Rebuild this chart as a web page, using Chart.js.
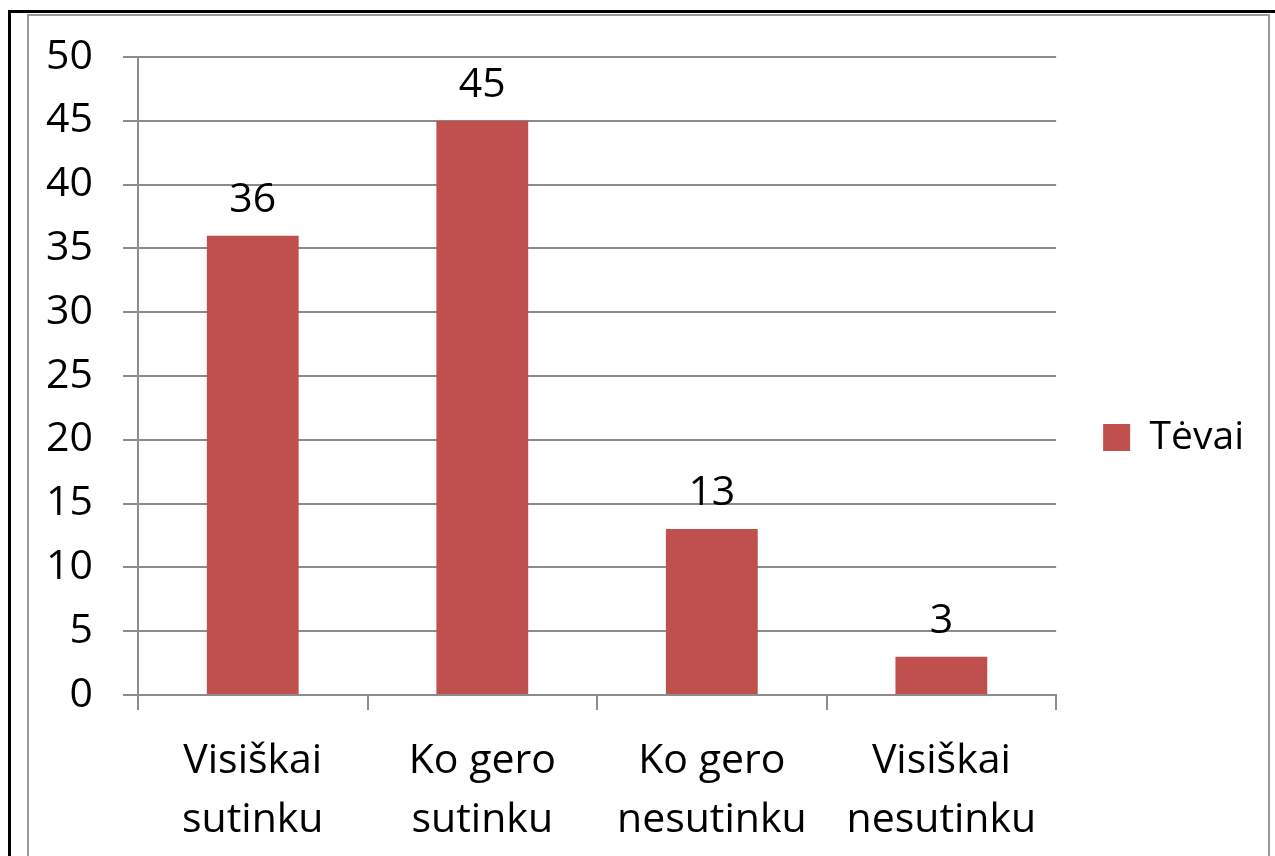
<!DOCTYPE html>
<html>
<head>
<meta charset="utf-8">
<script src="https://cdn.jsdelivr.net/npm/chart.js@4/dist/chart.umd.min.js"></script>
<style>
  html, body { margin: 0; padding: 0; background: #fff; width: 1275px; height: 856px; overflow: hidden; }
  #outer { position: absolute; left: 8px; top: 10px; width: 1300px; height: 900px; border: 3px solid #000; box-sizing: border-box; }
  #inner { position: absolute; left: 27px; top: 14px; width: 1243px; height: 900px; border: 2px solid #999; box-sizing: border-box; }
  #wrap { position: absolute; left: 0; top: 0; width: 1275px; height: 856px; }
</style>
</head>
<body>
<div id="outer"></div>
<div id="inner"></div>
<div id="wrap"><canvas id="c" width="1275" height="856"></canvas></div>
<script>
const categories = [["Visiškai", "sutinku"], ["Ko gero", "sutinku"], ["Ko gero", "nesutinku"], ["Visiškai", "nesutinku"]];
const seriesName = "Tėvai";
const values = [36, 45, 13, 3];
const yTicks = [0, 5, 10, 15, 20, 25, 30, 35, 40, 45, 50];

const FONT = "'Open Sans', 'Noto Sans', sans-serif";
const FSIZE = 41;
const BAR = "#C0504D";
const GRID = "#8c8c8c";

const dataLabels = {
  id: "dataLabels",
  afterDatasetsDraw(chart) {
    const ctx = chart.ctx;
    ctx.save();
    ctx.font = FSIZE + "px " + FONT;
    ctx.fillStyle = "#000";
    ctx.textAlign = "center";
    ctx.textBaseline = "alphabetic";
    chart.getDatasetMeta(0).data.forEach((bar, i) => {
      ctx.fillText(String(values[i]), bar.x, bar.y - 24);
    });
    ctx.restore();
  }
};

// raise the legend so it is centred in the whole frame, as in the original
const legendShift = {
  id: "legendShift",
  afterLayout(chart) {
    if (chart.legend) { chart.legend.top -= 19; chart.legend.bottom -= 19; }
  }
};

new Chart(document.getElementById("c"), {
  type: "bar",
  data: {
    labels: categories,
    datasets: [{
      label: seriesName,
      data: values,
      backgroundColor: BAR,
      borderWidth: 0,
      barPercentage: 0.4,
      categoryPercentage: 1.0
    }]
  },
  options: {
    responsive: false,
    animation: false,
    devicePixelRatio: 1,
    layout: { padding: { left: 0, top: 57, right: 21, bottom: 0 } },
    plugins: {
      tooltip: { enabled: false },
      legend: {
        position: "right",
        labels: {
          boxWidth: 27,
          boxHeight: 27,
          padding: 47,
          color: "#000",
          font: { family: FONT, size: 39 }
        }
      }
    },
    scales: {
      x: {
        offset: true,
        grid: { display: true, drawOnChartArea: false, drawTicks: true, tickLength: 15, color: GRID, lineWidth: 2, offset: true },
        border: { display: true, color: GRID, width: 2 },
        ticks: { color: "#000", font: { family: FONT, size: FSIZE, lineHeight: 1.46 }, padding: 21, maxRotation: 0, autoSkip: false },
        afterFit(scale) { scale.height = 161; }
      },
      y: {
        min: 0, max: 50,
        afterBuildTicks(scale) { scale.ticks = yTicks.map(v => ({ value: v })); },
        grid: { color: GRID, lineWidth: 2, tickLength: 15, drawTicks: true },
        border: { display: true, color: GRID, width: 2 },
        ticks: { color: "#000", font: { family: FONT, size: FSIZE }, padding: 30 },
        afterFit(scale) { scale.width = 138; }
      }
    }
  },
  plugins: [dataLabels, legendShift]
});
</script>
</body>
</html>
